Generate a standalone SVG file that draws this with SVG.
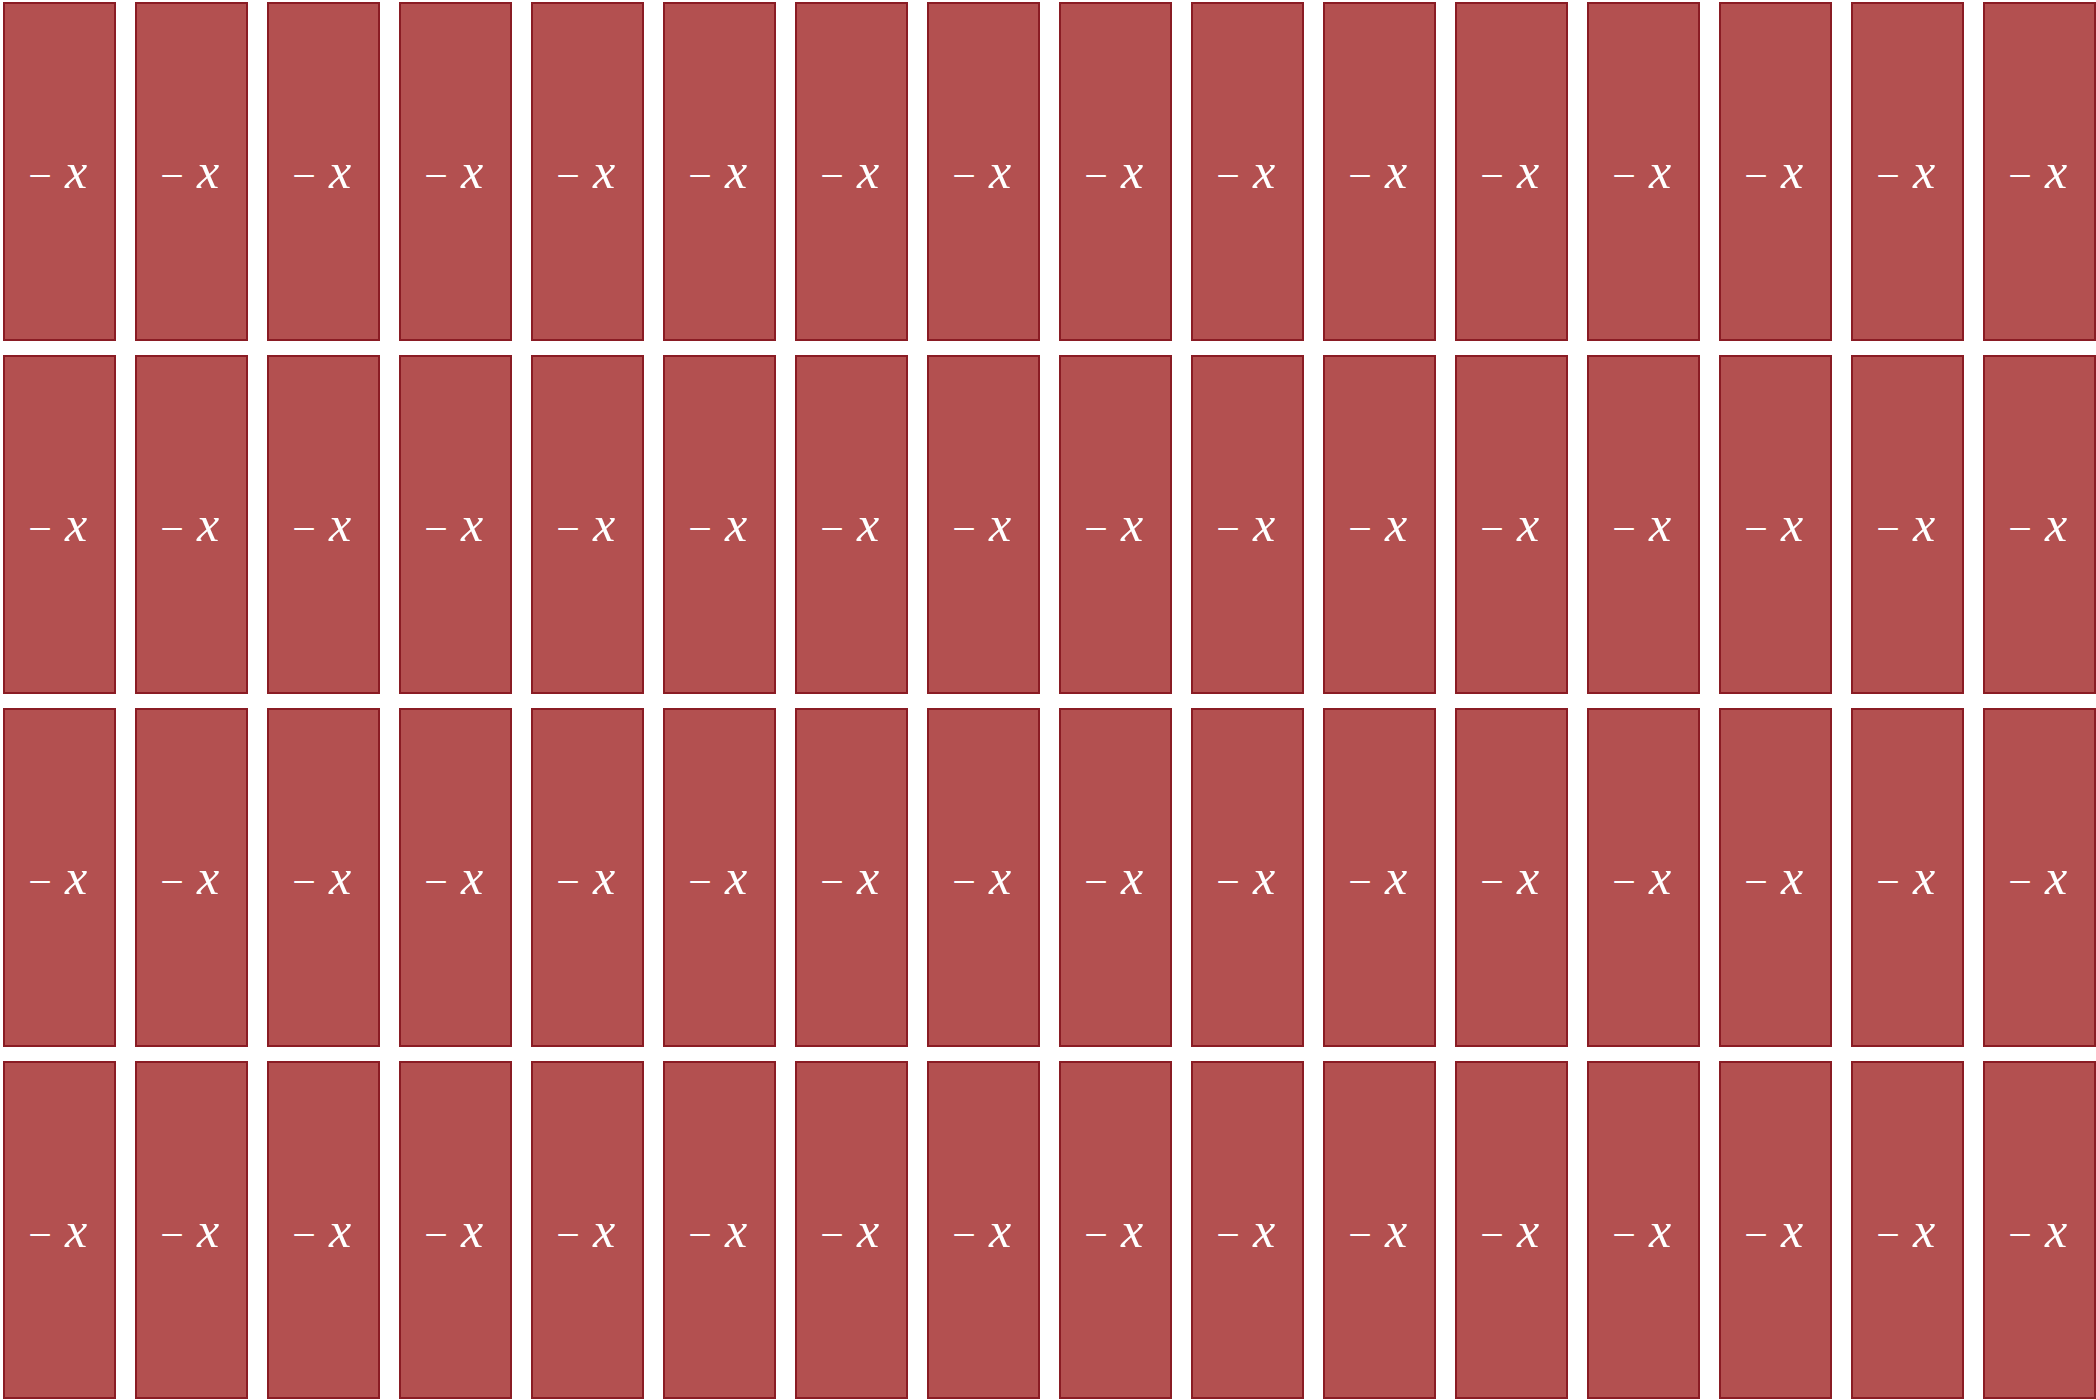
<svg xmlns="http://www.w3.org/2000/svg" width="2096" height="1400" viewBox="0 0 2096 1400">
<style>
.t rect{fill:#b35050;stroke:#8a1c24;stroke-width:2}
.t text{fill:#ffffff;font-family:"Liberation Serif","DejaVu Serif",serif;text-anchor:middle}
.t .m{font-size:42px}
.t .v{font-size:50px;font-style:italic}
</style>
<rect width="2096" height="1400" fill="#ffffff"/>
<g id="tiles">
<g id="t-0-0" class="t" transform="translate(4,3)"><rect width="111" height="337"/><text><tspan class="m" x="36" y="187">−</tspan><tspan class="v" x="72" y="185">x</tspan></text></g>
<g id="t-0-1" class="t" transform="translate(136,3)"><rect width="111" height="337"/><text><tspan class="m" x="36" y="187">−</tspan><tspan class="v" x="72" y="185">x</tspan></text></g>
<g id="t-0-2" class="t" transform="translate(268,3)"><rect width="111" height="337"/><text><tspan class="m" x="36" y="187">−</tspan><tspan class="v" x="72" y="185">x</tspan></text></g>
<g id="t-0-3" class="t" transform="translate(400,3)"><rect width="111" height="337"/><text><tspan class="m" x="36" y="187">−</tspan><tspan class="v" x="72" y="185">x</tspan></text></g>
<g id="t-0-4" class="t" transform="translate(532,3)"><rect width="111" height="337"/><text><tspan class="m" x="36" y="187">−</tspan><tspan class="v" x="72" y="185">x</tspan></text></g>
<g id="t-0-5" class="t" transform="translate(664,3)"><rect width="111" height="337"/><text><tspan class="m" x="36" y="187">−</tspan><tspan class="v" x="72" y="185">x</tspan></text></g>
<g id="t-0-6" class="t" transform="translate(796,3)"><rect width="111" height="337"/><text><tspan class="m" x="36" y="187">−</tspan><tspan class="v" x="72" y="185">x</tspan></text></g>
<g id="t-0-7" class="t" transform="translate(928,3)"><rect width="111" height="337"/><text><tspan class="m" x="36" y="187">−</tspan><tspan class="v" x="72" y="185">x</tspan></text></g>
<g id="t-0-8" class="t" transform="translate(1060,3)"><rect width="111" height="337"/><text><tspan class="m" x="36" y="187">−</tspan><tspan class="v" x="72" y="185">x</tspan></text></g>
<g id="t-0-9" class="t" transform="translate(1192,3)"><rect width="111" height="337"/><text><tspan class="m" x="36" y="187">−</tspan><tspan class="v" x="72" y="185">x</tspan></text></g>
<g id="t-0-10" class="t" transform="translate(1324,3)"><rect width="111" height="337"/><text><tspan class="m" x="36" y="187">−</tspan><tspan class="v" x="72" y="185">x</tspan></text></g>
<g id="t-0-11" class="t" transform="translate(1456,3)"><rect width="111" height="337"/><text><tspan class="m" x="36" y="187">−</tspan><tspan class="v" x="72" y="185">x</tspan></text></g>
<g id="t-0-12" class="t" transform="translate(1588,3)"><rect width="111" height="337"/><text><tspan class="m" x="36" y="187">−</tspan><tspan class="v" x="72" y="185">x</tspan></text></g>
<g id="t-0-13" class="t" transform="translate(1720,3)"><rect width="111" height="337"/><text><tspan class="m" x="36" y="187">−</tspan><tspan class="v" x="72" y="185">x</tspan></text></g>
<g id="t-0-14" class="t" transform="translate(1852,3)"><rect width="111" height="337"/><text><tspan class="m" x="36" y="187">−</tspan><tspan class="v" x="72" y="185">x</tspan></text></g>
<g id="t-0-15" class="t" transform="translate(1984,3)"><rect width="111" height="337"/><text><tspan class="m" x="36" y="187">−</tspan><tspan class="v" x="72" y="185">x</tspan></text></g>
<g id="t-1-0" class="t" transform="translate(4,356)"><rect width="111" height="337"/><text><tspan class="m" x="36" y="187">−</tspan><tspan class="v" x="72" y="185">x</tspan></text></g>
<g id="t-1-1" class="t" transform="translate(136,356)"><rect width="111" height="337"/><text><tspan class="m" x="36" y="187">−</tspan><tspan class="v" x="72" y="185">x</tspan></text></g>
<g id="t-1-2" class="t" transform="translate(268,356)"><rect width="111" height="337"/><text><tspan class="m" x="36" y="187">−</tspan><tspan class="v" x="72" y="185">x</tspan></text></g>
<g id="t-1-3" class="t" transform="translate(400,356)"><rect width="111" height="337"/><text><tspan class="m" x="36" y="187">−</tspan><tspan class="v" x="72" y="185">x</tspan></text></g>
<g id="t-1-4" class="t" transform="translate(532,356)"><rect width="111" height="337"/><text><tspan class="m" x="36" y="187">−</tspan><tspan class="v" x="72" y="185">x</tspan></text></g>
<g id="t-1-5" class="t" transform="translate(664,356)"><rect width="111" height="337"/><text><tspan class="m" x="36" y="187">−</tspan><tspan class="v" x="72" y="185">x</tspan></text></g>
<g id="t-1-6" class="t" transform="translate(796,356)"><rect width="111" height="337"/><text><tspan class="m" x="36" y="187">−</tspan><tspan class="v" x="72" y="185">x</tspan></text></g>
<g id="t-1-7" class="t" transform="translate(928,356)"><rect width="111" height="337"/><text><tspan class="m" x="36" y="187">−</tspan><tspan class="v" x="72" y="185">x</tspan></text></g>
<g id="t-1-8" class="t" transform="translate(1060,356)"><rect width="111" height="337"/><text><tspan class="m" x="36" y="187">−</tspan><tspan class="v" x="72" y="185">x</tspan></text></g>
<g id="t-1-9" class="t" transform="translate(1192,356)"><rect width="111" height="337"/><text><tspan class="m" x="36" y="187">−</tspan><tspan class="v" x="72" y="185">x</tspan></text></g>
<g id="t-1-10" class="t" transform="translate(1324,356)"><rect width="111" height="337"/><text><tspan class="m" x="36" y="187">−</tspan><tspan class="v" x="72" y="185">x</tspan></text></g>
<g id="t-1-11" class="t" transform="translate(1456,356)"><rect width="111" height="337"/><text><tspan class="m" x="36" y="187">−</tspan><tspan class="v" x="72" y="185">x</tspan></text></g>
<g id="t-1-12" class="t" transform="translate(1588,356)"><rect width="111" height="337"/><text><tspan class="m" x="36" y="187">−</tspan><tspan class="v" x="72" y="185">x</tspan></text></g>
<g id="t-1-13" class="t" transform="translate(1720,356)"><rect width="111" height="337"/><text><tspan class="m" x="36" y="187">−</tspan><tspan class="v" x="72" y="185">x</tspan></text></g>
<g id="t-1-14" class="t" transform="translate(1852,356)"><rect width="111" height="337"/><text><tspan class="m" x="36" y="187">−</tspan><tspan class="v" x="72" y="185">x</tspan></text></g>
<g id="t-1-15" class="t" transform="translate(1984,356)"><rect width="111" height="337"/><text><tspan class="m" x="36" y="187">−</tspan><tspan class="v" x="72" y="185">x</tspan></text></g>
<g id="t-2-0" class="t" transform="translate(4,709)"><rect width="111" height="337"/><text><tspan class="m" x="36" y="187">−</tspan><tspan class="v" x="72" y="185">x</tspan></text></g>
<g id="t-2-1" class="t" transform="translate(136,709)"><rect width="111" height="337"/><text><tspan class="m" x="36" y="187">−</tspan><tspan class="v" x="72" y="185">x</tspan></text></g>
<g id="t-2-2" class="t" transform="translate(268,709)"><rect width="111" height="337"/><text><tspan class="m" x="36" y="187">−</tspan><tspan class="v" x="72" y="185">x</tspan></text></g>
<g id="t-2-3" class="t" transform="translate(400,709)"><rect width="111" height="337"/><text><tspan class="m" x="36" y="187">−</tspan><tspan class="v" x="72" y="185">x</tspan></text></g>
<g id="t-2-4" class="t" transform="translate(532,709)"><rect width="111" height="337"/><text><tspan class="m" x="36" y="187">−</tspan><tspan class="v" x="72" y="185">x</tspan></text></g>
<g id="t-2-5" class="t" transform="translate(664,709)"><rect width="111" height="337"/><text><tspan class="m" x="36" y="187">−</tspan><tspan class="v" x="72" y="185">x</tspan></text></g>
<g id="t-2-6" class="t" transform="translate(796,709)"><rect width="111" height="337"/><text><tspan class="m" x="36" y="187">−</tspan><tspan class="v" x="72" y="185">x</tspan></text></g>
<g id="t-2-7" class="t" transform="translate(928,709)"><rect width="111" height="337"/><text><tspan class="m" x="36" y="187">−</tspan><tspan class="v" x="72" y="185">x</tspan></text></g>
<g id="t-2-8" class="t" transform="translate(1060,709)"><rect width="111" height="337"/><text><tspan class="m" x="36" y="187">−</tspan><tspan class="v" x="72" y="185">x</tspan></text></g>
<g id="t-2-9" class="t" transform="translate(1192,709)"><rect width="111" height="337"/><text><tspan class="m" x="36" y="187">−</tspan><tspan class="v" x="72" y="185">x</tspan></text></g>
<g id="t-2-10" class="t" transform="translate(1324,709)"><rect width="111" height="337"/><text><tspan class="m" x="36" y="187">−</tspan><tspan class="v" x="72" y="185">x</tspan></text></g>
<g id="t-2-11" class="t" transform="translate(1456,709)"><rect width="111" height="337"/><text><tspan class="m" x="36" y="187">−</tspan><tspan class="v" x="72" y="185">x</tspan></text></g>
<g id="t-2-12" class="t" transform="translate(1588,709)"><rect width="111" height="337"/><text><tspan class="m" x="36" y="187">−</tspan><tspan class="v" x="72" y="185">x</tspan></text></g>
<g id="t-2-13" class="t" transform="translate(1720,709)"><rect width="111" height="337"/><text><tspan class="m" x="36" y="187">−</tspan><tspan class="v" x="72" y="185">x</tspan></text></g>
<g id="t-2-14" class="t" transform="translate(1852,709)"><rect width="111" height="337"/><text><tspan class="m" x="36" y="187">−</tspan><tspan class="v" x="72" y="185">x</tspan></text></g>
<g id="t-2-15" class="t" transform="translate(1984,709)"><rect width="111" height="337"/><text><tspan class="m" x="36" y="187">−</tspan><tspan class="v" x="72" y="185">x</tspan></text></g>
<g id="t-3-0" class="t" transform="translate(4,1062)"><rect width="111" height="336"/><text><tspan class="m" x="36" y="187">−</tspan><tspan class="v" x="72" y="185">x</tspan></text></g>
<g id="t-3-1" class="t" transform="translate(136,1062)"><rect width="111" height="336"/><text><tspan class="m" x="36" y="187">−</tspan><tspan class="v" x="72" y="185">x</tspan></text></g>
<g id="t-3-2" class="t" transform="translate(268,1062)"><rect width="111" height="336"/><text><tspan class="m" x="36" y="187">−</tspan><tspan class="v" x="72" y="185">x</tspan></text></g>
<g id="t-3-3" class="t" transform="translate(400,1062)"><rect width="111" height="336"/><text><tspan class="m" x="36" y="187">−</tspan><tspan class="v" x="72" y="185">x</tspan></text></g>
<g id="t-3-4" class="t" transform="translate(532,1062)"><rect width="111" height="336"/><text><tspan class="m" x="36" y="187">−</tspan><tspan class="v" x="72" y="185">x</tspan></text></g>
<g id="t-3-5" class="t" transform="translate(664,1062)"><rect width="111" height="336"/><text><tspan class="m" x="36" y="187">−</tspan><tspan class="v" x="72" y="185">x</tspan></text></g>
<g id="t-3-6" class="t" transform="translate(796,1062)"><rect width="111" height="336"/><text><tspan class="m" x="36" y="187">−</tspan><tspan class="v" x="72" y="185">x</tspan></text></g>
<g id="t-3-7" class="t" transform="translate(928,1062)"><rect width="111" height="336"/><text><tspan class="m" x="36" y="187">−</tspan><tspan class="v" x="72" y="185">x</tspan></text></g>
<g id="t-3-8" class="t" transform="translate(1060,1062)"><rect width="111" height="336"/><text><tspan class="m" x="36" y="187">−</tspan><tspan class="v" x="72" y="185">x</tspan></text></g>
<g id="t-3-9" class="t" transform="translate(1192,1062)"><rect width="111" height="336"/><text><tspan class="m" x="36" y="187">−</tspan><tspan class="v" x="72" y="185">x</tspan></text></g>
<g id="t-3-10" class="t" transform="translate(1324,1062)"><rect width="111" height="336"/><text><tspan class="m" x="36" y="187">−</tspan><tspan class="v" x="72" y="185">x</tspan></text></g>
<g id="t-3-11" class="t" transform="translate(1456,1062)"><rect width="111" height="336"/><text><tspan class="m" x="36" y="187">−</tspan><tspan class="v" x="72" y="185">x</tspan></text></g>
<g id="t-3-12" class="t" transform="translate(1588,1062)"><rect width="111" height="336"/><text><tspan class="m" x="36" y="187">−</tspan><tspan class="v" x="72" y="185">x</tspan></text></g>
<g id="t-3-13" class="t" transform="translate(1720,1062)"><rect width="111" height="336"/><text><tspan class="m" x="36" y="187">−</tspan><tspan class="v" x="72" y="185">x</tspan></text></g>
<g id="t-3-14" class="t" transform="translate(1852,1062)"><rect width="111" height="336"/><text><tspan class="m" x="36" y="187">−</tspan><tspan class="v" x="72" y="185">x</tspan></text></g>
<g id="t-3-15" class="t" transform="translate(1984,1062)"><rect width="111" height="336"/><text><tspan class="m" x="36" y="187">−</tspan><tspan class="v" x="72" y="185">x</tspan></text></g>
</g>
<g id="connectors"/>
</svg>
